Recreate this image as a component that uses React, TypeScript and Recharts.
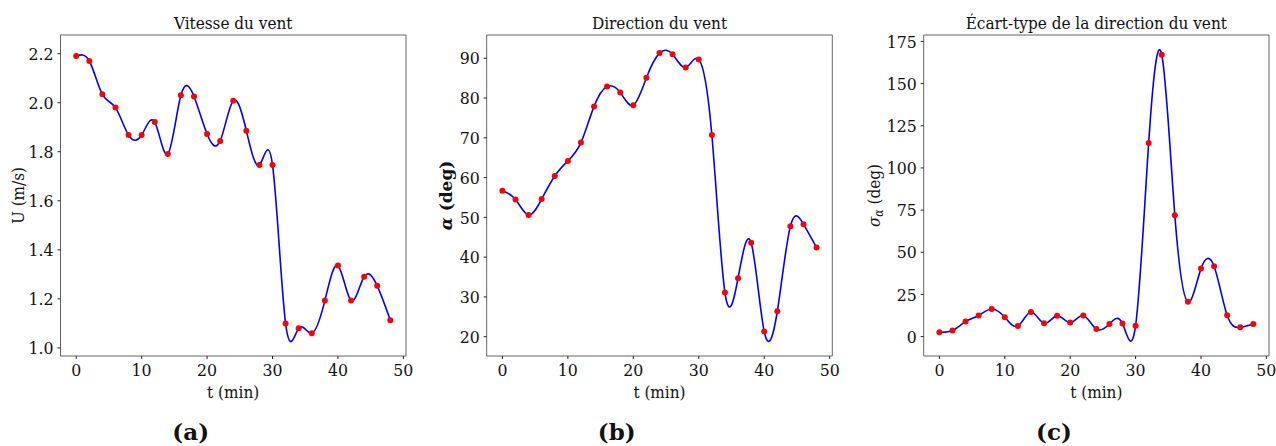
import React from "react";
import { LineChart, Line, XAxis, YAxis, ReferenceArea } from "recharts";

// time axis (minutes) and the three measured series
const minutes = [0, 2, 4, 6, 8, 10, 12, 14, 16, 18, 20, 22, 24, 26, 28, 30, 32, 34, 36, 38, 40, 42, 44, 46, 48];
const windSpeed = [2.19, 2.17, 2.034, 1.98, 1.868, 1.868, 1.921, 1.791, 2.03, 2.025, 1.872, 1.844, 2.008, 1.886, 1.746, 1.746, 1.1, 1.08, 1.06, 1.193, 1.336, 1.193, 1.29, 1.253, 1.113];
const windDirection = [56.7, 54.5, 50.6, 54.6, 60.4, 64.2, 68.8, 77.9, 82.9, 81.4, 78.2, 85.1, 91.3, 91.0, 87.7, 89.7, 70.7, 31.1, 34.7, 43.6, 21.3, 26.4, 47.8, 48.3, 42.4];
const directionStd = [2.6, 3.6, 8.9, 12.5, 16.4, 11.5, 6.3, 14.6, 7.9, 12.3, 8.3, 12.5, 4.5, 7.5, 7.7, 6.5, 114.7, 167.1, 72.0, 20.6, 40.3, 41.7, 12.6, 5.5, 7.5];

const timeTicks = [0, 10, 20, 30, 40, 50];
const speedTicks = [1.0, 1.2, 1.4, 1.6, 1.8, 2.0, 2.2];
const directionTicks = [20, 30, 40, 50, 60, 70, 80, 90];
const stdTicks = [0, 25, 50, 75, 100, 125, 150, 175];

const FONT = "'DejaVu Serif', serif";
const H = 446;

type PanelProps = {
  left: number;
  width: number;
  axisW: number;
  right: number;
  values: number[];
  domain: [number, number];
  ticks: number[];
  fmt: (v: number) => string;
};

const Panel = ({ left, width, axisW, right, values, domain, ticks, fmt }: PanelProps) => {
  const data = minutes.map((t, i) => ({ t, v: values[i] }));
  const tickStyle = { fontFamily: FONT, fontStretch: "condensed", fontSize: 17.5, fill: "#111" };
  return (
    <div style={{ position: "absolute", left, top: 0 }}>
      <LineChart width={width} height={H} data={data} margin={{ top: 35, right, bottom: 60, left: 0 }}>
        <XAxis
          dataKey="t"
          type="number"
          domain={[-2.4, 50.4]}
          ticks={timeTicks}
          allowDataOverflow
          height={30}
          tickSize={3}
          tickMargin={5}
          axisLine={false}
          tickLine={{ stroke: "#222" }}
          tick={tickStyle}
        />
        <YAxis
          type="number"
          domain={domain}
          ticks={ticks}
          allowDataOverflow
          width={axisW}
          tickSize={3}
          tickMargin={4}
          axisLine={false}
          tickLine={{ stroke: "#222" }}
          tick={tickStyle}
          tickFormatter={fmt}
        />
        <ReferenceArea x1={-2.4} x2={50.4} y1={domain[0]} y2={domain[1]} fill="none" stroke="#666" strokeWidth={1} />
        <Line dataKey="v" stroke="none" isAnimationActive={false} dot={{ r: 3, fill: "#ff0000", stroke: "none" }} activeDot={false} />
        <Line dataKey="v" type="natural" stroke="#0000ff" strokeWidth={1.6} dot={false} activeDot={false} isAnimationActive={false} />
      </LineChart>
    </div>
  );
};

const textBase = { fontFamily: FONT, fontStretch: "condensed" as const, fontSize: 17, fill: "#111" };

export default function App() {
  const centers = [233.2, 659.5, 1096.3];
  const titles = ["Vitesse du vent", "Direction du vent", "Écart-type de la direction du vent"];
  const tags = [
    { x: 190.7, s: "(a)" },
    { x: 616.7, s: "(b)" },
    { x: 1054, s: "(c)" },
  ];
  return (
    <div style={{ position: "absolute", left: 0, top: 0, width: 1276, height: H, background: "#fff" }}>
      <Panel left={0} width={420} axisW={60.5} right={14} values={windSpeed} domain={[0.967, 2.276]} ticks={speedTicks} fmt={(v) => v.toFixed(1)} />
      <Panel left={420} width={425} axisW={66.7} right={12.7} values={windDirection} domain={[15.15, 95.85]} ticks={directionTicks} fmt={(v) => String(v)} />
      <Panel left={850} width={426} axisW={73.7} right={7} values={directionStd} domain={[-11.5, 178.8]} ticks={stdTicks} fmt={(v) => String(v)} />
      <svg width={1276} height={H} style={{ position: "absolute", left: 0, top: 0, pointerEvents: "none" }}>
        {centers.map((c, i) => (
          <g key={i}>
            <text x={c} y={29} textAnchor="middle" {...textBase}>{titles[i]}</text>
            <text x={c} y={397.5} textAnchor="middle" {...textBase}>t (min)</text>
          </g>
        ))}
        <text transform="translate(23.5,195.5) rotate(-90)" textAnchor="middle" {...textBase}>U (m/s)</text>
        <text transform="translate(452,195.5) rotate(-90)" textAnchor="middle" {...textBase} fontWeight="bold" fontStretch="normal">
          <tspan fontStyle="italic">α</tspan> (deg)
        </text>
        <text transform="translate(880,195.5) rotate(-90)" textAnchor="middle" {...textBase}>
          <tspan fontStyle="italic">σ</tspan>
          <tspan fontStyle="italic" fontSize={12} dy={3}>α</tspan>
          <tspan dy={-3}> (deg)</tspan>
        </text>
        {tags.map((t) => (
          <text key={t.s} x={t.x} y={440} textAnchor="middle" fontFamily={FONT} fontWeight="bold" fontSize={23} fill="#111">{t.s}</text>
        ))}
      </svg>
    </div>
  );
}
